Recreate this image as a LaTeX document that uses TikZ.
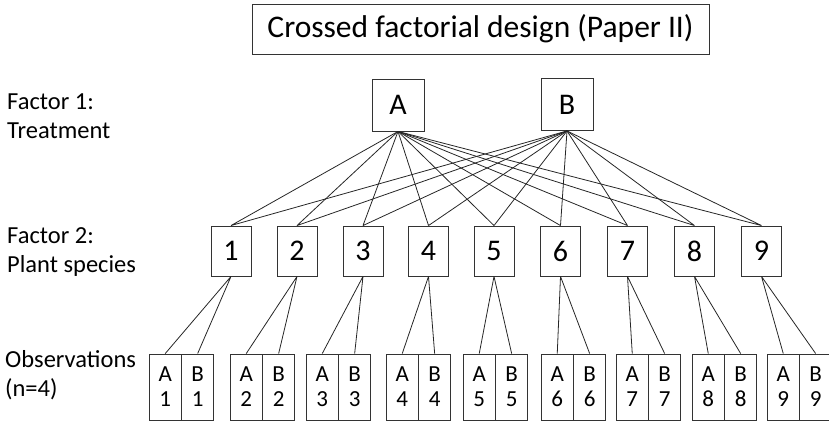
\documentclass[tikz,border=0pt]{standalone}
\usepackage{fontspec}
\setmainfont{Carlito}
\usetikzlibrary{positioning}

\tikzset{
    box/.style={draw=black!80, line width=0.9pt, inner sep=0pt},
    treatbox/.style={box, minimum width=52pt, minimum height=52pt, font=\fontsize{30}{36}\selectfont},
    speciesbox/.style={box, minimum width=40pt, minimum height=50pt, font=\fontsize{30}{36}\selectfont},
    obsbox/.style={box, minimum width=31.5pt, minimum height=66pt, align=center, font=\fontsize{23}{25}\selectfont},
    factorlabel/.style={anchor=base west, align=left, inner sep=0pt, font=\fontsize{24.5}{29}\selectfont},
    link/.style={draw=black!85, line width=0.8pt}
}

\begin{document}
\begin{tikzpicture}[x=1pt, y=-1pt]
    \useasboundingbox (0,0) rectangle (829,422);
    % title
    \node[box, minimum width=457pt, minimum height=50pt, font=\fontsize{31.5}{36}\selectfont] (title) at (480.5,29) {Crossed factorial design (Paper II)};
    % row labels (base = last line)
    \node[factorlabel] (f1) at (7,139) {Factor 1:\\Treatment};
    \node[factorlabel] (f2) at (7,272) {Factor 2:\\Plant species};
    \node[factorlabel] (obs) at (5,396) {Observations\\(n=4)};
    % factor 1
    \node[treatbox] (a) at (398,105) {A};
    \node[treatbox] (b) at (567,104.5) {B};
    % factor 2 and observations
    \foreach \i/\x/\m in {1/231/181, 2/297/262, 3/363/338, 4/428.5/418, 5/494/495, 6/560.5/573, 7/627.5/648, 8/694.5/724, 9/761.5/799} {
        \node[speciesbox] (s\i) at (\x,251) {\i};
        \node[obsbox] (oa\i) at (\m-15.75,387) {A\\\i};
        \node[obsbox, right=0pt of oa\i] (ob\i) {B\\\i};
        \draw[link]
        (a.south) -- (s\i.north)
        (b.south) -- (s\i.north)
        (s\i.south) -- (oa\i.north)
        (s\i.south) -- (ob\i.north);
    }
\end{tikzpicture}
\end{document}
